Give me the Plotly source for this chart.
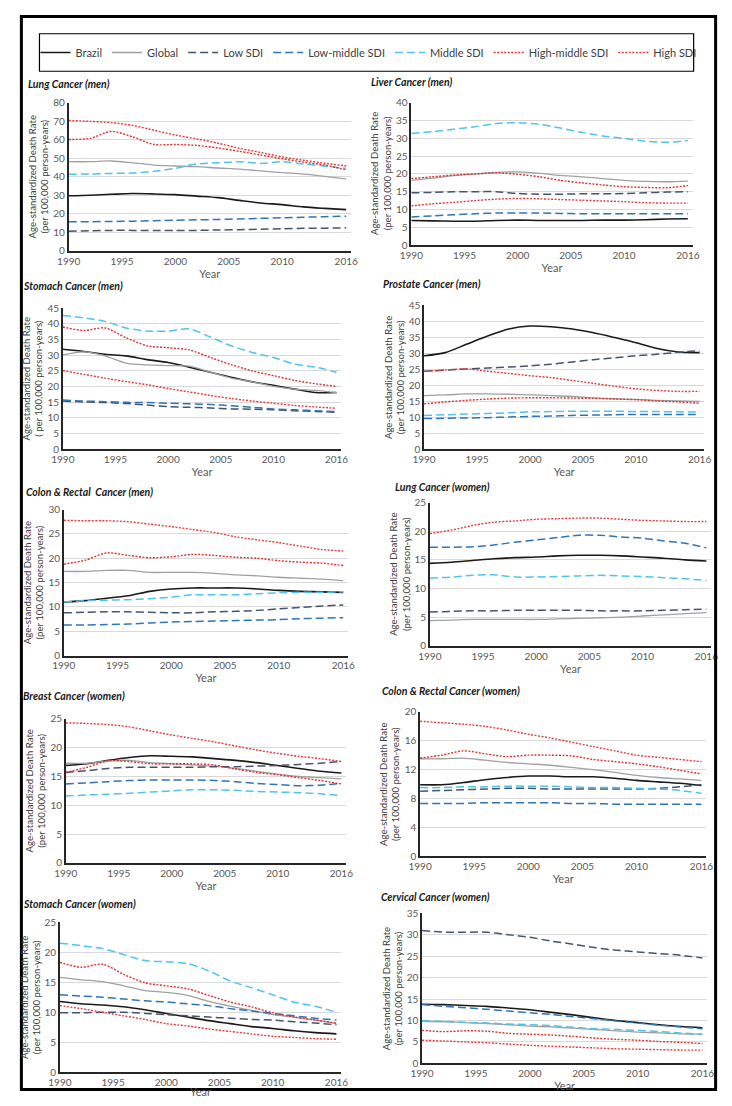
import plotly.graph_objects as go

# Page is 732x1106; the browser body keeps an 8 px margin, so the figure is 716x1090
PAGE_W, PAGE_H = 732, 1106
OFF = 8
W, H = PAGE_W - 2 * OFF, PAGE_H - 2 * OFF

years = [1990, 1992, 1994, 1996, 1998, 2000, 2002, 2004, 2006, 2008, 2010, 2012, 2014, 2016]
tick_years = [1990, 1995, 2000, 2005, 2010, 2016]
series_names = ["Brazil", "Global", "Low SDI", "Low-middle SDI", "Middle SDI", "High-middle SDI", "High SDI"]

# ---- Lung Cancer (men)
lung_men_brazil = [29.8, 30.1, 30.6, 31.0, 30.8, 30.4, 29.6, 28.8, 27.3, 25.9, 25.0, 23.8, 23.0, 22.3]
lung_men_global = [48.2, 48.2, 48.6, 47.6, 46.4, 45.9, 45.5, 44.8, 44.2, 43.2, 42.3, 41.5, 40.3, 38.9]
lung_men_low = [10.7, 10.9, 11.1, 11.1, 11.0, 11.0, 11.1, 11.3, 11.5, 11.7, 12.0, 12.2, 12.3, 12.5]
lung_men_lowmid = [15.7, 15.8, 15.9, 16.1, 16.3, 16.6, 16.8, 17.0, 17.3, 17.6, 17.9, 18.2, 18.5, 18.8]
lung_men_middle = [41.4, 41.6, 41.9, 42.1, 43.0, 44.6, 47.0, 47.6, 48.2, 47.3, 48.2, 47.0, 45.8, 44.6]
lung_men_highmid = [60.2, 60.8, 64.6, 61.6, 57.5, 57.5, 57.0, 55.6, 53.8, 51.8, 49.8, 48.0, 46.4, 43.8]
lung_men_high = [70.5, 70.0, 69.3, 67.8, 65.2, 62.6, 60.5, 58.2, 55.4, 53.2, 50.8, 49.0, 47.4, 45.9]

# ---- Liver Cancer (men)
liver_men_brazil = [6.9, 6.8, 6.7, 6.7, 6.9, 7.0, 6.9, 6.9, 6.9, 7.0, 7.0, 7.1, 7.3, 7.4]
liver_men_global = [18.2, 18.8, 19.5, 20.0, 20.4, 20.6, 20.2, 19.6, 19.2, 18.7, 18.2, 17.9, 17.8, 18.0]
liver_men_low = [14.7, 14.8, 15.0, 15.0, 15.0, 14.5, 14.3, 14.3, 14.4, 14.4, 14.5, 14.7, 14.9, 15.0]
liver_men_lowmid = [7.9, 8.2, 8.5, 8.8, 9.0, 9.0, 9.0, 8.9, 8.8, 8.8, 8.8, 8.8, 8.8, 8.8]
liver_men_middle = [31.4, 31.9, 32.6, 33.3, 34.2, 34.4, 34.0, 32.9, 31.7, 30.7, 30.0, 29.2, 28.9, 29.4]
liver_men_highmid = [18.7, 19.2, 19.7, 20.0, 20.3, 19.9, 19.2, 18.2, 17.5, 16.9, 16.4, 16.2, 16.1, 16.7]
liver_men_high = [11.0, 11.6, 12.0, 12.5, 12.9, 13.1, 13.0, 12.8, 12.6, 12.4, 12.2, 11.9, 11.8, 11.8]

# ---- Stomach Cancer (men)
stomach_men_brazil = [31.9, 31.2, 30.3, 29.8, 28.6, 27.7, 26.2, 24.6, 23.0, 21.5, 20.4, 19.2, 18.1, 18.1]
stomach_men_global = [30.1, 31.1, 29.8, 27.5, 26.9, 26.7, 26.5, 24.6, 22.7, 21.5, 20.1, 19.2, 18.8, 18.1]
stomach_men_low = [15.4, 15.1, 14.9, 14.6, 14.1, 13.6, 13.4, 13.2, 12.9, 12.8, 12.6, 12.3, 12.1, 11.8]
stomach_men_lowmid = [15.7, 15.4, 15.2, 15.0, 14.9, 14.7, 14.5, 14.3, 13.9, 13.4, 12.9, 12.6, 12.3, 12.0]
stomach_men_middle = [42.7, 41.9, 40.8, 38.7, 37.7, 37.7, 38.4, 35.8, 33.0, 30.9, 29.3, 27.2, 26.2, 24.6]
stomach_men_highmid = [39.0, 37.9, 38.7, 35.6, 33.0, 32.4, 31.7, 29.3, 27.0, 25.0, 23.5, 22.0, 20.9, 20.1]
stomach_men_high = [25.1, 23.9, 22.7, 21.6, 20.6, 19.4, 18.3, 17.2, 16.2, 15.4, 14.7, 14.0, 13.5, 13.1]

# ---- Prostate Cancer (men)
prostate_men_brazil = [29.2, 30.2, 32.8, 35.4, 37.6, 38.5, 38.3, 37.6, 36.4, 34.9, 33.3, 31.5, 30.4, 30.2]
prostate_men_global = [16.8, 17.0, 17.3, 17.3, 17.2, 17.0, 16.8, 16.5, 16.1, 15.8, 15.6, 15.3, 15.1, 15.0]
prostate_men_low = [24.4, 24.7, 25.1, 25.4, 25.7, 26.1, 26.6, 27.3, 28.0, 28.6, 29.2, 29.7, 30.3, 30.8]
prostate_men_lowmid = [9.6, 9.7, 9.8, 9.9, 10.1, 10.3, 10.4, 10.6, 10.7, 10.8, 10.9, 10.9, 10.9, 10.9]
prostate_men_middle = [10.6, 10.8, 11.0, 11.2, 11.4, 11.7, 11.8, 11.9, 11.9, 11.9, 11.8, 11.8, 11.7, 11.7]
prostate_men_highmid = [14.2, 14.8, 15.3, 15.7, 16.0, 16.1, 16.1, 16.0, 15.9, 15.7, 15.5, 15.1, 14.8, 14.4]
prostate_men_high = [24.3, 24.8, 25.1, 24.4, 23.7, 23.0, 22.4, 21.5, 20.6, 19.7, 18.9, 18.4, 18.1, 18.1]

# ---- Colon & Rectal Cancer (men)
colon_men_brazil = [11.0, 11.3, 11.8, 12.3, 13.2, 13.7, 13.9, 13.9, 13.9, 13.7, 13.4, 13.2, 13.1, 13.0]
colon_men_global = [17.3, 17.3, 17.5, 17.5, 17.1, 17.1, 17.1, 16.9, 16.6, 16.4, 16.1, 15.9, 15.7, 15.4]
colon_men_low = [8.8, 8.9, 9.0, 9.0, 8.9, 8.8, 8.8, 9.0, 9.1, 9.3, 9.6, 9.9, 10.2, 10.4]
colon_men_lowmid = [6.3, 6.3, 6.4, 6.5, 6.7, 6.9, 7.0, 7.1, 7.2, 7.3, 7.4, 7.6, 7.7, 7.8]
colon_men_middle = [11.0, 11.3, 11.4, 11.5, 11.7, 12.0, 12.5, 12.5, 12.5, 12.7, 12.9, 13.0, 13.0, 13.1]
colon_men_highmid = [18.8, 19.6, 21.1, 20.6, 20.1, 20.3, 20.8, 20.6, 20.2, 20.0, 19.5, 19.2, 19.0, 18.5]
colon_men_high = [27.8, 27.7, 27.7, 27.5, 27.0, 26.5, 25.9, 25.3, 24.4, 23.8, 23.2, 22.5, 21.8, 21.5]

# ---- Lung Cancer (women)  (only one red line visible)
lung_women_brazil = [14.4, 14.6, 14.9, 15.2, 15.4, 15.5, 15.7, 15.8, 15.8, 15.7, 15.5, 15.3, 15.0, 14.8]
lung_women_global = [4.4, 4.5, 4.6, 4.6, 4.6, 4.6, 4.7, 4.8, 4.9, 5.0, 5.2, 5.4, 5.6, 5.8]
lung_women_low = [5.9, 6.0, 6.1, 6.1, 6.2, 6.2, 6.2, 6.2, 6.1, 6.1, 6.1, 6.2, 6.3, 6.4]
lung_women_lowmid = [17.2, 17.2, 17.3, 17.6, 18.1, 18.5, 18.9, 19.3, 19.3, 19.0, 18.8, 18.3, 17.9, 17.1]
lung_women_middle = [11.8, 12.0, 12.3, 12.4, 12.0, 12.0, 12.1, 12.2, 12.3, 12.2, 12.1, 11.9, 11.7, 11.4]
lung_women_highmid = []
lung_women_high = [19.6, 20.2, 21.0, 21.6, 21.8, 22.1, 22.2, 22.3, 22.3, 22.1, 21.9, 21.8, 21.7, 21.7]

# ---- Breast Cancer (women)
breast_women_brazil = [16.9, 17.2, 17.8, 18.3, 18.6, 18.5, 18.4, 18.1, 17.8, 17.4, 16.9, 16.4, 15.9, 15.6]
breast_women_global = [17.3, 17.3, 17.7, 17.8, 17.4, 17.2, 17.0, 16.8, 16.4, 15.9, 15.4, 15.0, 14.8, 14.6]
breast_women_low = [15.7, 16.0, 16.4, 16.6, 16.6, 16.6, 16.6, 16.7, 16.7, 16.8, 16.9, 17.1, 17.3, 17.6]
breast_women_lowmid = [13.7, 13.9, 14.1, 14.3, 14.4, 14.4, 14.4, 14.3, 14.1, 13.8, 13.6, 13.4, 13.5, 13.8]
breast_women_middle = [11.6, 11.8, 11.9, 12.1, 12.3, 12.5, 12.7, 12.7, 12.6, 12.4, 12.3, 12.2, 12.0, 11.7]
breast_women_highmid = [15.7, 16.6, 17.7, 17.6, 17.2, 17.2, 17.2, 17.0, 16.3, 15.7, 15.3, 14.8, 14.3, 13.7]
breast_women_high = [24.3, 24.2, 24.0, 23.6, 22.9, 22.2, 21.6, 21.0, 20.3, 19.6, 19.0, 18.5, 18.1, 17.6]

# ---- Colon & Rectal Cancer (women)
colon_women_brazil = [9.9, 9.9, 10.2, 10.6, 10.9, 11.1, 11.1, 11.0, 11.0, 10.8, 10.5, 10.3, 10.1, 9.8]
colon_women_global = [13.5, 13.5, 13.6, 13.3, 13.0, 12.8, 12.6, 12.3, 12.0, 11.6, 11.2, 10.9, 10.7, 10.5]
colon_women_low = [9.0, 9.1, 9.2, 9.3, 9.4, 9.4, 9.3, 9.3, 9.3, 9.3, 9.3, 9.4, 9.6, 9.9]
colon_women_lowmid = [7.3, 7.3, 7.3, 7.4, 7.4, 7.4, 7.4, 7.3, 7.3, 7.2, 7.2, 7.2, 7.2, 7.2]
colon_women_middle = [9.5, 9.5, 9.6, 9.6, 9.7, 9.7, 9.7, 9.6, 9.5, 9.5, 9.4, 9.3, 9.1, 8.7]
colon_women_highmid = [13.6, 14.0, 14.6, 14.2, 13.8, 14.0, 14.0, 13.9, 13.4, 13.1, 12.8, 12.4, 11.9, 11.4]
colon_women_high = [18.7, 18.5, 18.3, 18.0, 17.5, 16.9, 16.4, 15.8, 15.2, 14.6, 14.0, 13.7, 13.4, 13.1]

# ---- Stomach Cancer (women)
stomach_women_brazil = [11.8, 11.4, 11.2, 10.9, 10.4, 9.8, 9.2, 8.6, 8.1, 7.6, 7.3, 6.9, 6.6, 6.4]
stomach_women_global = [15.8, 15.4, 15.1, 14.4, 13.6, 13.3, 12.8, 11.8, 11.0, 10.3, 9.6, 9.2, 8.7, 8.1]
stomach_women_low = [9.9, 9.9, 10.0, 10.0, 9.8, 9.6, 9.4, 9.2, 9.0, 8.8, 8.7, 8.4, 8.2, 7.9]
stomach_women_lowmid = [12.9, 12.7, 12.5, 12.2, 11.9, 11.7, 11.4, 11.1, 10.6, 10.2, 9.8, 9.4, 9.0, 8.7]
stomach_women_middle = [21.5, 21.1, 20.6, 19.6, 18.6, 18.4, 18.1, 16.9, 15.2, 14.1, 12.9, 11.7, 11.0, 10.0]
stomach_women_highmid = [18.3, 17.5, 18.0, 16.3, 14.9, 14.4, 13.9, 12.8, 11.7, 10.9, 9.9, 9.2, 8.7, 8.2]
stomach_women_high = [11.1, 10.6, 10.0, 9.4, 8.8, 8.1, 7.7, 7.2, 6.8, 6.4, 6.0, 5.8, 5.6, 5.5]

# ---- Cervical Cancer (women)
cervical_women_brazil = [13.8, 13.7, 13.5, 13.3, 12.9, 12.5, 11.9, 11.3, 10.6, 10.0, 9.5, 9.0, 8.6, 8.3]
cervical_women_global = [9.8, 9.7, 9.5, 9.3, 9.0, 8.7, 8.5, 8.2, 7.9, 7.6, 7.3, 7.1, 6.9, 6.8]
cervical_women_low = [31.0, 30.6, 30.6, 30.6, 30.0, 29.4, 28.5, 27.8, 27.0, 26.4, 26.0, 25.6, 25.2, 24.6]
cervical_women_lowmid = [13.7, 13.3, 13.0, 12.6, 12.2, 11.8, 11.4, 10.9, 10.4, 9.9, 9.4, 8.9, 8.5, 8.1]
cervical_women_middle = [10.0, 9.8, 9.6, 9.4, 9.2, 9.0, 8.8, 8.4, 8.1, 7.9, 7.7, 7.4, 7.1, 6.8]
cervical_women_highmid = [7.7, 7.4, 7.6, 7.5, 7.0, 6.8, 6.6, 6.3, 5.9, 5.6, 5.4, 5.1, 4.9, 4.6]
cervical_women_high = [5.4, 5.2, 5.0, 4.8, 4.5, 4.2, 4.0, 3.8, 3.6, 3.4, 3.3, 3.2, 3.1, 3.1]

panel_titles = ["Lung Cancer (men)", "Liver Cancer (men)", "Stomach Cancer (men)",
                "Prostate Cancer (men)", "Colon & Rectal  Cancer (men)", "Lung Cancer (women)",
                "Breast Cancer (women)", "Colon & Rectal Cancer (women)", "Stomach Cancer (women)",
                "Cervical Cancer (women)"]
y_max = [80, 40, 45, 45, 30, 25, 25, 20, 25, 35]
y_step = [10, 5, 5, 5, 5, 5, 5, 4, 5, 5]

panel_data = [
    [lung_men_brazil, lung_men_global, lung_men_low, lung_men_lowmid, lung_men_middle, lung_men_highmid, lung_men_high],
    [liver_men_brazil, liver_men_global, liver_men_low, liver_men_lowmid, liver_men_middle, liver_men_highmid, liver_men_high],
    [stomach_men_brazil, stomach_men_global, stomach_men_low, stomach_men_lowmid, stomach_men_middle, stomach_men_highmid, stomach_men_high],
    [prostate_men_brazil, prostate_men_global, prostate_men_low, prostate_men_lowmid, prostate_men_middle, prostate_men_highmid, prostate_men_high],
    [colon_men_brazil, colon_men_global, colon_men_low, colon_men_lowmid, colon_men_middle, colon_men_highmid, colon_men_high],
    [lung_women_brazil, lung_women_global, lung_women_low, lung_women_lowmid, lung_women_middle, lung_women_highmid, lung_women_high],
    [breast_women_brazil, breast_women_global, breast_women_low, breast_women_lowmid, breast_women_middle, breast_women_highmid, breast_women_high],
    [colon_women_brazil, colon_women_global, colon_women_low, colon_women_lowmid, colon_women_middle, colon_women_highmid, colon_women_high],
    [stomach_women_brazil, stomach_women_global, stomach_women_low, stomach_women_lowmid, stomach_women_middle, stomach_women_highmid, stomach_women_high],
    [cervical_women_brazil, cervical_women_global, cervical_women_low, cervical_women_lowmid, cervical_women_middle, cervical_women_highmid, cervical_women_high],
]

# ---- layout (page-pixel boxes of plot areas: left, right, top, bottom)
boxes = [(58, 348, 97, 247), (410, 699, 97, 241),
         (52, 338, 305, 448), (423, 711, 302, 448),
         (53, 345, 509, 657), (429, 718, 502, 647),
         (55, 343, 721, 867), (419, 713, 714, 860),
         (49, 338, 927, 1079), (421, 714, 918, 1070)]
title_pos = [(14, 78), (366, 76), (4, 283), (379, 281), (12, 491),
             (391, 486), (8, 698), (378, 693), (8, 909), (377, 901)]

styles = [
    dict(color="#1a1a1a", width=1.6, dash="solid"),
    dict(color="#a0a0a0", width=1.3, dash="solid"),
    dict(color="#44546A", width=1.5, dash="8px,4px"),
    dict(color="#2E75B6", width=1.5, dash="8px,4px"),
    dict(color="#4FC3EE", width=1.5, dash="8px,4px"),
    dict(color="#E03030", width=1.4, dash="2px,1.5px"),
    dict(color="#E83A3A", width=1.4, dash="2px,1.5px"),
]

def px_x(p):
    return (p - OFF) / W

def px_y(p):
    return 1 - (p - OFF) / H

FONT = "Lato, Open Sans, sans-serif"
fig = go.Figure()
annotations = []
shapes = []

for i in range(10):
    ax = "" if i == 0 else str(i + 1)
    L, R, T, B = boxes[i]
    for s, (name, vals) in enumerate(zip(series_names, panel_data[i])):
        if not vals:
            continue
        fig.add_trace(go.Scatter(
            x=years, y=vals, mode="lines", name=name,
            line=dict(color=styles[s]["color"], width=styles[s]["width"],
                      dash=styles[s]["dash"], shape="spline", smoothing=0.8),
            legendgroup=name, showlegend=(i == 0),
            xaxis="x" + ax, yaxis="y" + ax, hoverinfo="x+y+name"))
    fig.layout["xaxis" + ax] = dict(
        domain=[px_x(L), px_x(R)], anchor="y" + ax, range=[1990, 2016.45],
        tickvals=tick_years, ticktext=[str(t) for t in tick_years],
        showgrid=False, zeroline=False, showline=True, linecolor="#262626", linewidth=1.5,
        ticks="", tickfont=dict(family=FONT, size=10, color="#595959"),
        title=dict(text="Year", font=dict(family=FONT, size=11, color="#595959"), standoff=2),
        fixedrange=True)
    fig.layout["yaxis" + ax] = dict(
        domain=[px_y(B), px_y(T)], anchor="x" + ax, range=[0, y_max[i]],
        dtick=y_step[i], tick0=0, showgrid=True, gridcolor="#d9d9d9", gridwidth=1,
        zeroline=False, showline=True, linecolor="#262626", linewidth=1.5,
        ticks="", tickfont=dict(family=FONT, size=10, color="#595959"),
        fixedrange=True)
    tx, ty = title_pos[i]
    annotations.append(dict(
        text="<b><i>" + panel_titles[i].replace("&", "&amp;") + "</i></b>",
        x=px_x(max(tx, OFF + 1)), y=px_y(ty), xref="paper", yref="paper",
        xanchor="left", yanchor="middle",
        showarrow=False, font=dict(family=FONT, size=10.5, color="#1a1a1a")))
    ylab2 = "( per 100,000 person-years)" if i == 2 else "(per 100,000 person-years)"
    annotations.append(dict(
        text="Age-standardized Death Rate<br>" + ylab2,
        x=px_x(L - 31), y=px_y((T + B) / 2), xref="paper", yref="paper",
        xanchor="center", yanchor="middle", textangle=-90, showarrow=False,
        font=dict(family=FONT, size=9.6, color="#404040")))

# legend box and outer frame
shapes.append(dict(type="rect", xref="paper", yref="paper",
                   x0=px_x(28), x1=px_x(700), y0=px_y(65), y1=px_y(27),
                   line=dict(color="#000000", width=1.2), fillcolor="rgba(0,0,0,0)"))
shapes.append(dict(type="rect", xref="paper", yref="paper",
                   x0=0.002, x1=0.998, y0=0.0015, y1=0.9985,
                   line=dict(color="#000000", width=3), fillcolor="rgba(0,0,0,0)"))

fig.update_layout(
    width=W, height=H, margin=dict(l=0, r=0, t=0, b=0),
    paper_bgcolor="white", plot_bgcolor="white",
    font=dict(family=FONT, color="#404040"),
    showlegend=True,
    legend=dict(orientation="h", x=px_x(366), xanchor="center", y=px_y(46), yanchor="middle",
                font=dict(family=FONT, size=11, color="#404040"),
                bgcolor="rgba(0,0,0,0)", borderwidth=0, itemwidth=30, tracegroupgap=0),
    annotations=annotations, shapes=shapes,
)

fig.write_html("out.html", config={"displayModeBar": False})
